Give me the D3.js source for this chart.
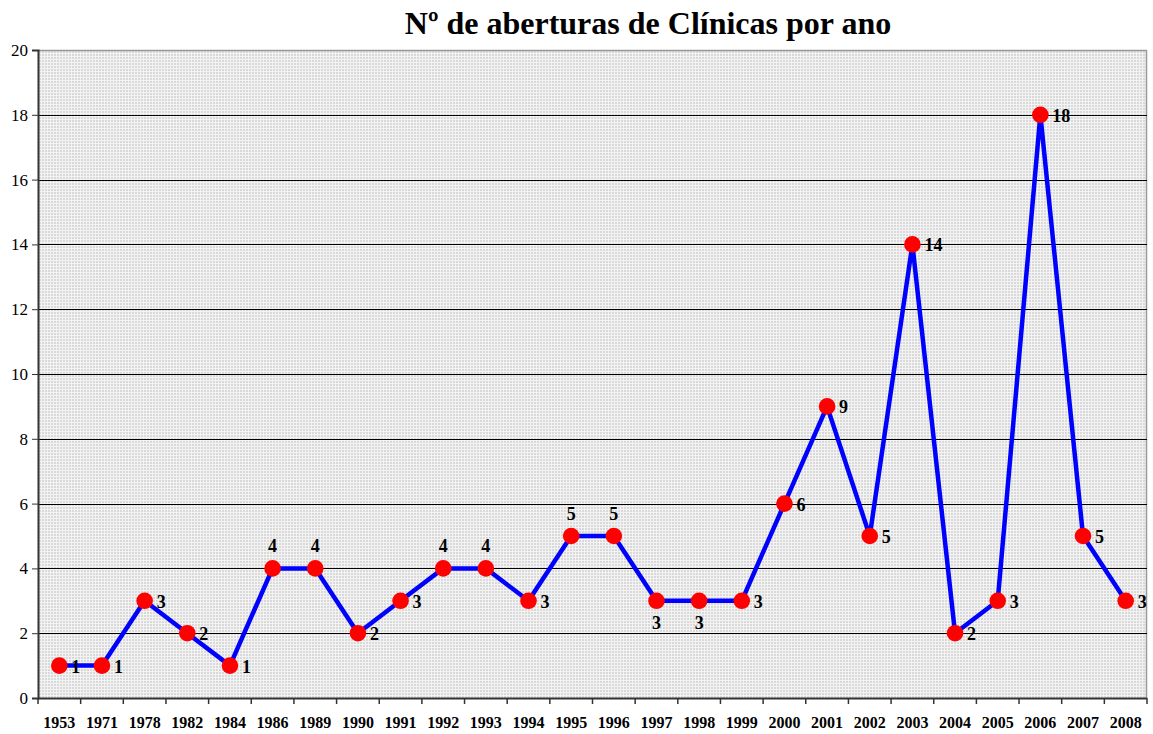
<!DOCTYPE html>
<html><head><meta charset="utf-8">
<script src="https://cdn.jsdelivr.net/npm/d3@7"></script>
<style>body{margin:0;background:#fff}svg{display:block}</style>
</head><body>
<script>
const years = ["1953","1971","1978","1982","1984","1986","1989","1990","1991","1992","1993","1994","1995","1996","1997","1998","1999","2000","2001","2002","2003","2004","2005","2006","2007","2008"];
const counts = [1,1,3,2,1,4,4,2,3,4,4,3,5,5,3,3,3,6,9,5,14,2,3,18,5,3];
const labelPos = ["r","r","r","r","r","t","t","r","r","t","t","r","t","t","b","b","r","r","r","r","r","r","r","r","r","r"];
const yTicks = [0,2,4,6,8,10,12,14,16,18,20];
const title = "Nº de aberturas de Clínicas por ano";

const FONT = "'Liberation Serif','Times New Roman',Times,serif";
const W = 1153, H = 734;
const m = {l:38, t:50, r:1147, b:698};
const svg = d3.select("body").append("svg").attr("width",W).attr("height",H);
const defs = svg.append("defs");
const pat = defs.append("pattern").attr("id","dots").attr("patternUnits","userSpaceOnUse").attr("width",3).attr("height",3);
pat.append("rect").attr("width",3).attr("height",3).attr("fill","#f3f3f3");
pat.append("rect").attr("x",0).attr("y",0).attr("width",2).attr("height",2).attr("fill","#d9d9d9");

const x = d3.scaleBand().domain(years).range([m.l, m.r]).padding(0);
const y = d3.scaleLinear().domain([0,20]).range([m.b, m.t]);

svg.append("rect").attr("x",m.l).attr("y",m.t).attr("width",m.r-m.l).attr("height",m.b-m.t).attr("fill","url(#dots)");
svg.append("line").attr("x1",m.l).attr("x2",m.r).attr("y1",m.t+0.5).attr("y2",m.t+0.5).attr("stroke","#999").attr("stroke-width",1.5);
svg.append("line").attr("x1",m.r-0.5).attr("x2",m.r-0.5).attr("y1",m.t).attr("y2",m.b).attr("stroke","#999").attr("stroke-width",1.5);
svg.append("g").selectAll("line").data(yTicks.filter(d=>d>0 && d<20)).join("line")
  .attr("x1",m.l).attr("x2",m.r).attr("y1",d=>Math.round(y(d))+0.5).attr("y2",d=>Math.round(y(d))+0.5)
  .attr("stroke","#000").attr("stroke-width",1);

// y axis
const ya = svg.append("g").attr("transform",`translate(${m.l},0)`)
  .call(d3.axisLeft(y).tickValues(yTicks).tickSize(6).tickPadding(4));
ya.attr("font-family",FONT).attr("font-size",17);
ya.select(".domain").attr("stroke","#333").attr("stroke-width",2);
ya.selectAll(".tick line").attr("stroke","#333");
ya.selectAll("text").style("font-family",FONT).style("font-size","17px").attr("fill","#000");

// x axis
const xa = svg.append("g").attr("transform",`translate(0,${m.b})`);
xa.append("line").attr("x1",m.l).attr("x2",m.r).attr("y1",0.5).attr("y2",0.5).attr("stroke","#333").attr("stroke-width",2);
const bounds = years.map(d=>x(d)).concat([m.r]);
xa.selectAll("line.tk").data(bounds).join("line").attr("class","tk")
  .attr("x1",d=>d).attr("x2",d=>d).attr("y1",0).attr("y2",6).attr("stroke","#333").attr("stroke-width",1.5);
xa.selectAll("text").data(years).join("text")
  .attr("x",d=>x(d)+x.bandwidth()/2).attr("y",30).attr("text-anchor","middle")
  .style("font-family",FONT).attr("font-weight","bold").style("font-size","16px")
  .text(d=>d);

const cx = d=>x(d)+x.bandwidth()/2;
svg.append("path").datum(years.map((d,i)=>[cx(d), y(counts[i])]))
  .attr("d", d3.line()).attr("fill","none").attr("stroke","#0000ff").attr("stroke-width",4.5).attr("stroke-linejoin","round");
svg.append("g").selectAll("circle").data(years).join("circle")
  .attr("cx",cx).attr("cy",(d,i)=>y(counts[i])).attr("r",8.3).attr("fill","#ff0000");

svg.append("g").selectAll("text").data(years).join("text")
  .attr("x",(d,i)=>labelPos[i]==="r"? cx(d)+12 : cx(d))
  .attr("y",(d,i)=>{const v=y(counts[i]); return labelPos[i]==="r"? v+7 : labelPos[i]==="t"? v-16 : v+28;})
  .attr("text-anchor",(d,i)=>labelPos[i]==="r"?"start":"middle")
  .style("font-family",FONT).attr("font-weight","bold").style("font-size","18px")
  .text((d,i)=>counts[i]);

svg.append("text").attr("x",648).attr("y",34).attr("text-anchor","middle")
  .style("font-family",FONT).attr("font-weight","bold").style("font-size","32px")
  .text(title);
</script>
</body></html>
